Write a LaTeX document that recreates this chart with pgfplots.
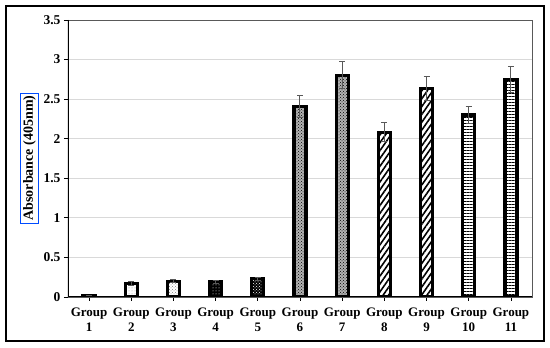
\documentclass[border=0pt]{standalone}
\usepackage{pgfplots}
\pgfplotsset{compat=1.18}
\usepackage{fontspec}
\setmainfont{Liberation Serif}
\usetikzlibrary{patterns,patterns.meta}
\begin{document}
\begin{tikzpicture}[x=1pt,y=1pt]
\useasboundingbox (-68,-51) rectangle (482,297);
\draw[line width=2pt] (-62,-44) rectangle (476,291);
\begin{axis}[
  at={(0,0)}, anchor=origin,
  scale only axis, width=464pt, height=277pt,
  xmin=0.5, xmax=11.5, ymin=0, ymax=3.5,
  xtick={1,...,11},
  xticklabels={{Group\\1},{Group\\2},{Group\\3},{Group\\4},{Group\\5},{Group\\6},{Group\\7},{Group\\8},{Group\\9},{Group\\10},{Group\\11}},
  xticklabel style={align=center, font=\bfseries\fontsize{13}{15}\selectfont, yshift=-3pt},
  ytick={0,0.5,...,3.5},
  yticklabel style={font=\bfseries\fontsize{13.5}{15}\selectfont},
  /pgf/number format/assume math mode=true,
  ymajorgrids, grid style={gray!30, line width=0.8pt},
  axis line style={gray!70!black, line width=0.8pt},
  tick align=outside, tick pos=left,
  major tick length=4pt,
  tick style={black, line width=0.8pt},
  ybar, bar width=12pt, bar shift=0pt,
  every axis plot/.append style={draw=black, line width=3.2pt,
    error bars/y dir=both, error bars/y explicit,
    error bars/error bar style={gray!70!black, line width=1pt},
    error bars/error mark options={rotate=90, mark size=3pt, gray!70!black, line width=1pt}},
]
\addplot[fill=gray!40] coordinates {(1,0.02) +- (0,0.005)};
\addplot[fill=white, postaction={pattern=dots, pattern color=gray!80}] coordinates {(2,0.17) +- (0,0.02)};
\addplot[fill=white, postaction={pattern=crosshatch dots, pattern color=gray}] coordinates {(3,0.20) +- (0,0.02)};
\addplot[fill=black, postaction={pattern=dots, pattern color=white}] coordinates {(4,0.19) +- (0,0.02)};
\addplot[fill=black, postaction={pattern=crosshatch dots, pattern color=white}] coordinates {(5,0.23) +- (0,0.02)};
\addplot[fill=gray!60, postaction={pattern=crosshatch dots, pattern color=black}] coordinates {(6,2.41) +- (0,0.14)};
\addplot[fill=gray!60, postaction={pattern=crosshatch dots, pattern color=black}] coordinates {(7,2.80) +- (0,0.17)};
\addplot[fill=white, postaction={pattern={Lines[angle=55, distance=4.5pt, line width=1.6pt]}, pattern color=black}] coordinates {(8,2.08) +- (0,0.12)};
\addplot[fill=white, postaction={pattern={Lines[angle=55, distance=4.5pt, line width=1.6pt]}, pattern color=black}] coordinates {(9,2.63) +- (0,0.15)};
\addplot[fill=white, postaction={pattern={Lines[angle=0, distance=3pt, line width=0.8pt]}, pattern color=black}] coordinates {(10,2.30) +- (0,0.11)};
\addplot[fill=white, postaction={pattern={Lines[angle=0, distance=3pt, line width=0.8pt]}, pattern color=black}] coordinates {(11,2.75) +- (0,0.16)};
\draw[black, line width=1.5pt] (rel axis cs:0,1) -- (rel axis cs:0,0) -- (rel axis cs:1,0);
\end{axis}
\node[draw=blue!70!cyan, line width=0.6pt, rotate=90, inner sep=2.5pt, font=\bfseries\fontsize{14}{15}\selectfont] at (-38.5,139) {Absorbance (405nm)};
\end{tikzpicture}
\end{document}
